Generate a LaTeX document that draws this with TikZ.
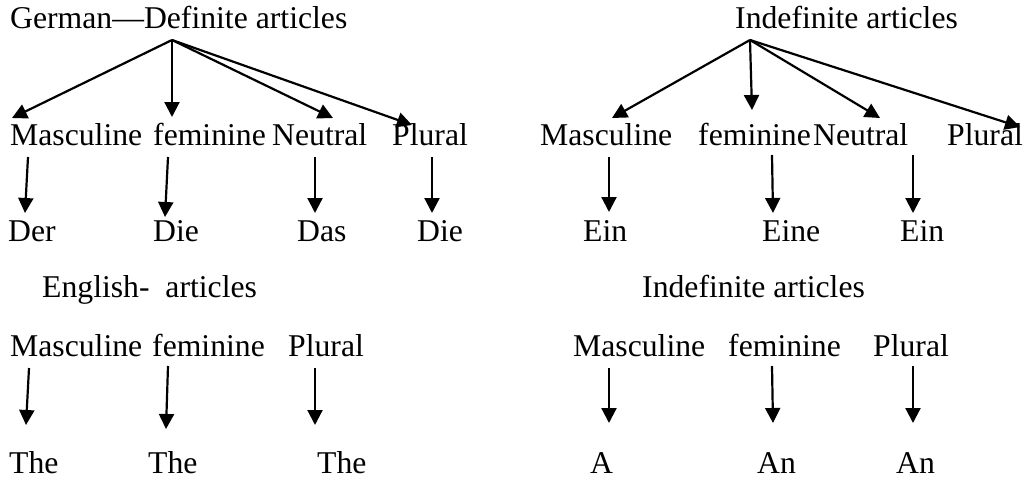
\documentclass[tikz,border=0pt]{standalone}
\usepackage{fontspec}
\setmainfont{Liberation Serif}
\usetikzlibrary{arrows.meta}
\begin{document}
\begin{tikzpicture}[x=1pt,y=-1pt,
  lbl/.style={anchor=base west,inner sep=0pt,font=\fontsize{31.7}{38}\selectfont},
  arr/.style={draw=black,line width=2.2pt,-{Triangle[length=15pt,width=15pt]}}]
\useasboundingbox (0,0) rectangle (1026,477);
% German headings
\node[lbl] (gdef) at (10,28) {German—Definite articles};
\node[lbl] (gind) at (735,28) {Indefinite articles};
% German genders
\node[lbl] (gm) at (10,145) {Masculine};
\node[lbl] (gf) at (153,145) {feminine};
\node[lbl] (gn) at (272,145) {Neutral};
\node[lbl] (gp) at (392,145) {Plural};
\node[lbl] (im) at (540,145) {Masculine};
\node[lbl] (if) at (698,145) {feminine};
\node[lbl] (in) at (813,145) {Neutral};
\node[lbl] (ip) at (947,145) {Plural};
% German articles
\node[lbl] (der) at (8,241) {Der};
\node[lbl] (die1) at (153,241) {Die};
\node[lbl] (das) at (297,241) {Das};
\node[lbl] (die2) at (417,241) {Die};
\node[lbl] (ein1) at (583,241) {Ein};
\node[lbl] (eine) at (762,241) {Eine};
\node[lbl] (ein2) at (900,241) {Ein};
% English headings
\node[lbl] (edef) at (42,297) {English-\ \ articles};
\node[lbl] (eind) at (642,297) {Indefinite articles};
% English genders
\node[lbl] (em) at (10,356) {Masculine};
\node[lbl] (ef) at (152,356) {feminine};
\node[lbl] (ep) at (288,356) {Plural};
\node[lbl] (jm) at (573,356) {Masculine};
\node[lbl] (jf) at (728,356) {feminine};
\node[lbl] (jp) at (873,356) {Plural};
% English articles
\node[lbl] (the1) at (9,473) {The};
\node[lbl] (the2) at (148,473) {The};
\node[lbl] (the3) at (317,473) {The};
\node[lbl] (a1) at (590,473) {A};
\node[lbl] (an1) at (757,473) {An};
\node[lbl] (an2) at (896,473) {An};
% connector end points
\coordinate (gapex) at (172,40);
\coordinate (iapex) at (750,40);
\coordinate (tgm) at (12,118);
\coordinate (tgf) at (172,117);
\coordinate (tgn) at (333,118);
\coordinate (tgp) at (412,125);
\coordinate (tim) at (612,118);
\coordinate (tif) at (752,110);
\coordinate (tin) at (880,118);
\coordinate (tip) at (1020,127);
\coordinate (s1) at (28,157); \coordinate (e1) at (25,213);
\coordinate (s2) at (168,157); \coordinate (e2) at (165,217);
\coordinate (s3) at (315,157); \coordinate (e3) at (315,213);
\coordinate (s4) at (432,157); \coordinate (e4) at (432,213);
\coordinate (s5) at (609,157); \coordinate (e5) at (609,212);
\coordinate (s6) at (772,155); \coordinate (e6) at (773,213);
\coordinate (s7) at (913,155); \coordinate (e7) at (913,213);
\coordinate (u1) at (29,368); \coordinate (v1) at (26,425);
\coordinate (u2) at (168,366); \coordinate (v2) at (166,429);
\coordinate (u3) at (315,368); \coordinate (v3) at (315,425);
\coordinate (u4) at (609,368); \coordinate (v4) at (609,423);
\coordinate (u5) at (772,366); \coordinate (v5) at (773,423);
\coordinate (u6) at (913,366); \coordinate (v6) at (913,423);
% arrows
\draw[arr] (gapex) -- (tgm);
\draw[arr] (gapex) -- (tgf);
\draw[arr] (gapex) -- (tgn);
\draw[arr] (gapex) -- (tgp);
\draw[arr] (iapex) -- (tim);
\draw[arr] (iapex) -- (tif);
\draw[arr] (iapex) -- (tin);
\draw[arr] (iapex) -- (tip);
\foreach \i in {1,...,7} {\draw[arr] (s\i) -- (e\i);}
\foreach \i in {1,...,6} {\draw[arr] (u\i) -- (v\i);}
\end{tikzpicture}
\end{document}
